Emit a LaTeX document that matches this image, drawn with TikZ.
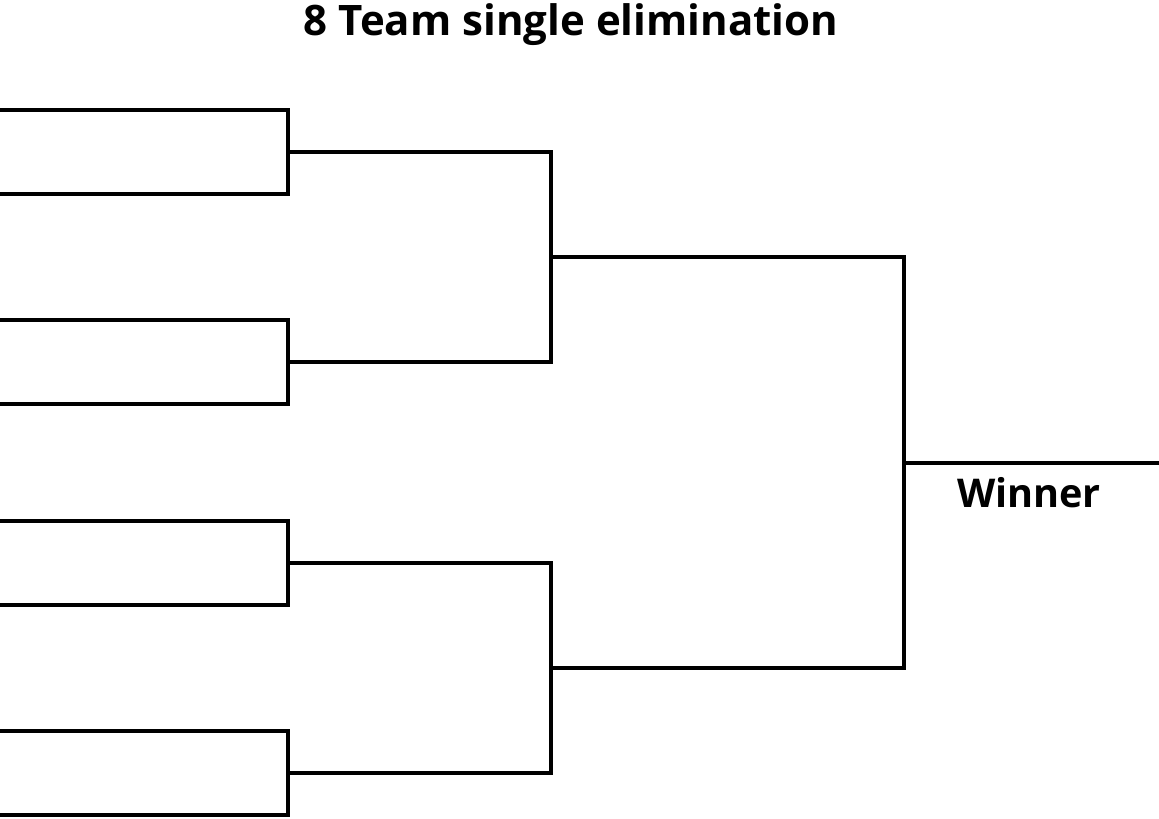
\documentclass[tikz,border=0pt]{standalone}
\usepackage{fontspec}
\setmainfont{Open Sans}
\tikzset{
  title/.style={font=\bfseries\fontsize{31.5}{38}\selectfont, anchor=base, inner sep=0pt},
  label/.style={font=\bfseries\fontsize{29.7}{36}\selectfont, anchor=base, inner sep=0pt},
  bracket/.style={line width=2.5pt}
}
\begin{document}
\begin{tikzpicture}[x=0.75pt,y=-0.75pt]
			\useasboundingbox (0,0) rectangle (1159,818);
			\node[title] (title) at (571,35) {8 Team single elimination};
			% teams
			\foreach \n/\y in {1/110,2/194,3/320,4/404,5/521,6/605,7/731,8/815}
			\coordinate (t\n) at (0,\y);
			% rounds
			\foreach \n/\y in {1/152,2/362,3/563,4/773}
			\coordinate (m\n) at (288,\y);
			\coordinate (s1) at (551,257);
			\coordinate (s2) at (551,668);
			\coordinate (f) at (904,463);
			\coordinate (w) at (1159,463);
			\foreach \n/\a/\b in {1/1/2,2/3/4,3/5/6,4/7/8}
			\draw[bracket] (t\a) -| (m\n) |- (t\b);
			\draw[bracket] (m1) -| (s1) |- (m2);
			\draw[bracket] (m3) -| (s2) |- (m4);
			\draw[bracket] (s1) -| (f) |- (s2);
			\draw[bracket] (f) -- (w);
			\node[label] (winner) at (1029,507) {Winner};
		\end{tikzpicture}
\end{document}
